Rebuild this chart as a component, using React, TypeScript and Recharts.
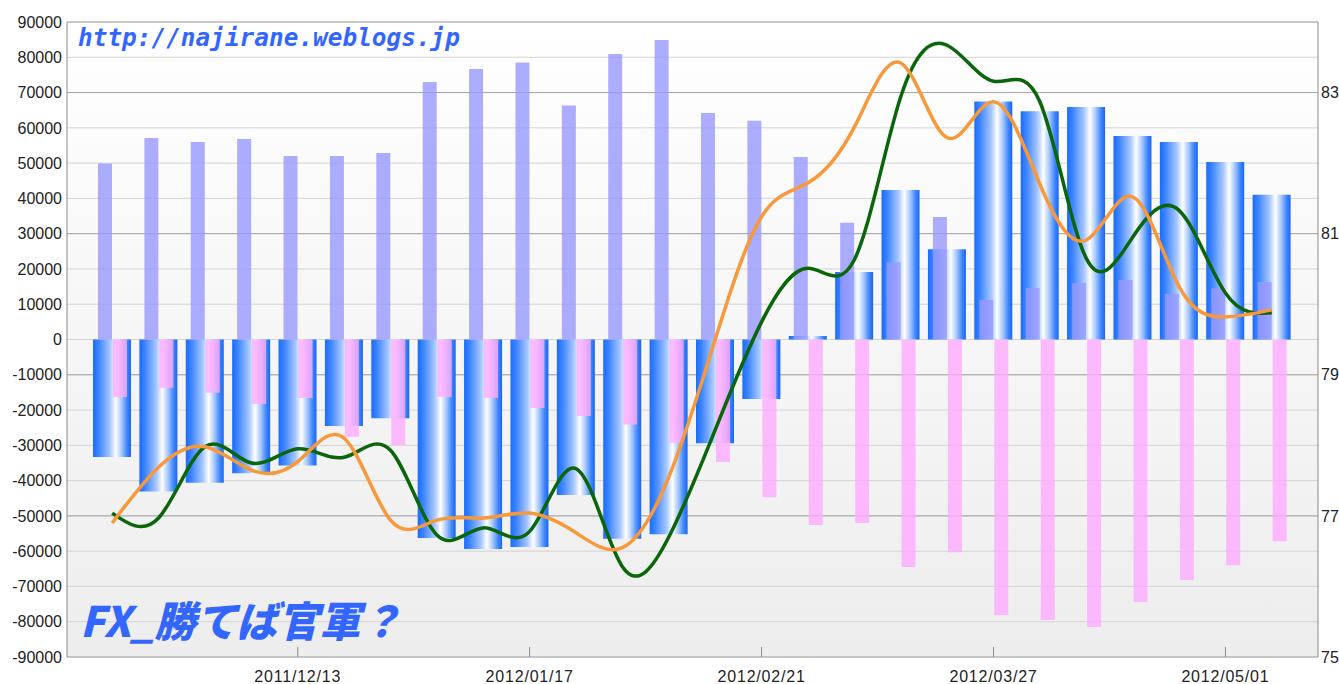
import React from 'react';
import {
  ComposedChart,
  Bar,
  Line,
  XAxis,
  YAxis,
  CartesianGrid,
} from 'recharts';

const dates = [
  '2011/11/15', '2011/11/22', '2011/11/29', '2011/12/06', '2011/12/13',
  '2011/12/20', '2011/12/27', '2012/01/03', '2012/01/10', '2012/01/17',
  '2012/01/24', '2012/01/31', '2012/02/07', '2012/02/14', '2012/02/21',
  '2012/02/28', '2012/03/06', '2012/03/13', '2012/03/20', '2012/03/27',
  '2012/04/03', '2012/04/10', '2012/04/17', '2012/04/24', '2012/05/01',
  '2012/05/08',
];

const labeledDates = ['2011/12/13', '2012/01/17', '2012/02/21', '2012/03/27', '2012/05/01'];

// blue bars
const netPos = [
  -33300, -43100, -40600, -37900, -35700, -24500, -22300, -56300, -59400, -58800,
  -44100, -56500, -55200, -29400, -16900, 1000, 19100, 42400, 25600, 67500,
  64700, 65900, 57700, 56000, 50300, 41000,
];

// lavender bars
const longPos = [
  49900, 57100, 56000, 56800, 52000, 52000, 52900, 73000, 76700, 78500,
  66300, 80900, 84900, 64200, 62000, 51700, 33100, 21900, 34700, 11200,
  14600, 16000, 16900, 12900, 14500, 16300,
];

// pink bars
const shortPos = [
  -16300, -13700, -15100, -18300, -16600, -27600, -29900, -16300, -16600, -19400,
  -21700, -24100, -29300, -34700, -44700, -52600, -52000, -64500, -60300, -78100,
  -79500, -81500, -74400, -68200, -64000, -57200,
];

// right axis lines
const greenRate = [
  77.04, 76.97, 77.98, 77.75, 77.95, 77.83, 77.93, 76.73, 76.83, 76.78,
  77.67, 76.28, 76.7, 78.22, 79.75, 80.51, 80.63, 82.94, 83.67, 83.16,
  82.87, 80.65, 80.95, 81.33, 80.16, 79.88,
];

const orangeRate = [
  76.9, 77.69, 77.98, 77.65, 77.77, 78.1, 76.94, 76.94, 76.97, 77.04,
  76.76, 76.55, 77.55, 79.5, 81.24, 81.72, 82.51, 83.42, 82.36, 82.87,
  81.7, 80.91, 81.52, 80.25, 79.82, 79.92,
];

const leftTicks = [
  -90000, -80000, -70000, -60000, -50000, -40000, -30000, -20000, -10000, 0,
  10000, 20000, 30000, 40000, 50000, 60000, 70000, 80000, 90000,
];
const rightTicks = [75, 77, 79, 81, 83];

const data = dates.map((d, i) => ({
  date: d,
  net: netPos[i],
  long: longPos[i],
  short: shortPos[i],
  green: greenRate[i],
  orange: orangeRate[i],
}));

const W = 1339;
const H = 684;
const X_AXIS_H = 27;
const PLOT_BOTTOM = H - X_AXIS_H;
const FONT = '"Liberation Sans", Arial, sans-serif';
const AXIS = '#8a8a8a';

// tick marks point into the plot, labels sit below the axis
const XTick = (props: any) => {
  const { x, payload } = props;
  if (!labeledDates.includes(payload.value)) return <g />;
  return (
    <g>
      <line x1={x} y1={PLOT_BOTTOM - 10} x2={x} y2={PLOT_BOTTOM} stroke={AXIS} />
      <text
        x={x}
        y={PLOT_BOTTOM + 19}
        textAnchor="middle"
        dominantBaseline="central"
        fontFamily={FONT}
        fontSize={16}
        letterSpacing={0.8}
        fill="#222"
      >
        {payload.value}
      </text>
    </g>
  );
};

export default function App() {
  return (
    <div style={{ position: 'absolute', left: 0, top: 0, width: W, height: H, background: '#fff' }}>
      <ComposedChart
        width={W}
        height={H}
        data={data}
        margin={{ top: 22, right: 0, bottom: 0, left: 0 }}
        barGap={1}
      >
        <defs>
          <linearGradient id="plotBg" x1="0" y1="0" x2="0" y2="1">
            <stop offset="0%" stopColor="#ffffff" />
            <stop offset="100%" stopColor="#ededed" />
          </linearGradient>
          <linearGradient id="netGrad" x1="0" y1="0" x2="1" y2="0">
            <stop offset="0%" stopColor="#1a6bff" />
            <stop offset="15%" stopColor="#3d85ff" />
            <stop offset="45%" stopColor="#a8c8ff" />
            <stop offset="60%" stopColor="#ffffff" />
            <stop offset="75%" stopColor="#a8c8ff" />
            <stop offset="90%" stopColor="#3d85ff" />
            <stop offset="100%" stopColor="#1a66f0" />
          </linearGradient>
        </defs>
        <CartesianGrid
          xAxisId="net"
          yAxisId="left"
          vertical={false}
          stroke="#d4d4d4"
          fill="url(#plotBg)"
          fillOpacity={1}
        />
        <CartesianGrid xAxisId="net" yAxisId="right" vertical={false} stroke="#a6a6a6" fill="none" />
        <XAxis
          xAxisId="net"
          dataKey="date"
          type="category"
          interval={0}
          height={X_AXIS_H}
          padding={{ left: 22, right: 23 }}
          axisLine={{ stroke: AXIS }}
          tickLine={false}
          tick={<XTick />}
        />
        <XAxis xAxisId="ls" dataKey="date" type="category" hide padding={{ left: 22, right: 23 }} />
        <YAxis
          yAxisId="left"
          width={67}
          domain={[-90000, 90000]}
          ticks={leftTicks}
          interval={0}
          axisLine={{ stroke: AXIS }}
          tickLine={false}
          tickSize={0}
          tickMargin={5}
          tick={{ fontFamily: FONT, fontSize: 16, fill: '#222' }}
        />
        <YAxis
          yAxisId="right"
          orientation="right"
          width={21}
          domain={[75, 84]}
          ticks={rightTicks}
          interval={0}
          axisLine={{ stroke: AXIS }}
          tickLine={false}
          tickSize={0}
          tickMargin={3}
          tick={{ fontFamily: FONT, fontSize: 16, fill: '#222', textAnchor: 'start' }}
        />
        <Bar xAxisId="net" yAxisId="left" dataKey="net" barSize={38} fill="url(#netGrad)" isAnimationActive={false} />
        <Bar xAxisId="ls" yAxisId="left" dataKey="long" barSize={14} fill="#9999ff" fillOpacity={0.8} isAnimationActive={false} />
        <Bar xAxisId="ls" yAxisId="left" dataKey="short" barSize={14} fill="#ffaaff" fillOpacity={0.8} isAnimationActive={false} />
        <Line
          xAxisId="net"
          yAxisId="right"
          type="natural"
          dataKey="green"
          stroke="#0b650b"
          strokeWidth={3.5}
          dot={false}
          isAnimationActive={false}
        />
        <Line
          xAxisId="net"
          yAxisId="right"
          type="natural"
          dataKey="orange"
          stroke="#f7993a"
          strokeWidth={3.5}
          dot={false}
          isAnimationActive={false}
        />
      </ComposedChart>
      <svg
        width={W}
        height={H}
        style={{ position: 'absolute', left: 0, top: 0, pointerEvents: 'none' }}
      >
        <text
          x={78}
          y={46}
          fontFamily='"DejaVu Sans Mono", monospace'
          fontWeight="bold"
          fontStyle="italic"
          fontSize={24}
          fill="#3366ff"
          textLength={382}
          lengthAdjust="spacingAndGlyphs"
        >
          http://najirane.weblogs.jp
        </text>
        <text
          x={80}
          y={637}
          fontFamily='"Noto Sans CJK JP", sans-serif'
          fontWeight={900}
          fontStyle="italic"
          fontSize={42}
          fill="#3366ff"
          textLength={322}
          lengthAdjust="spacingAndGlyphs"
        >
          FX_勝てば官軍？
        </text>
      </svg>
    </div>
  );
}
